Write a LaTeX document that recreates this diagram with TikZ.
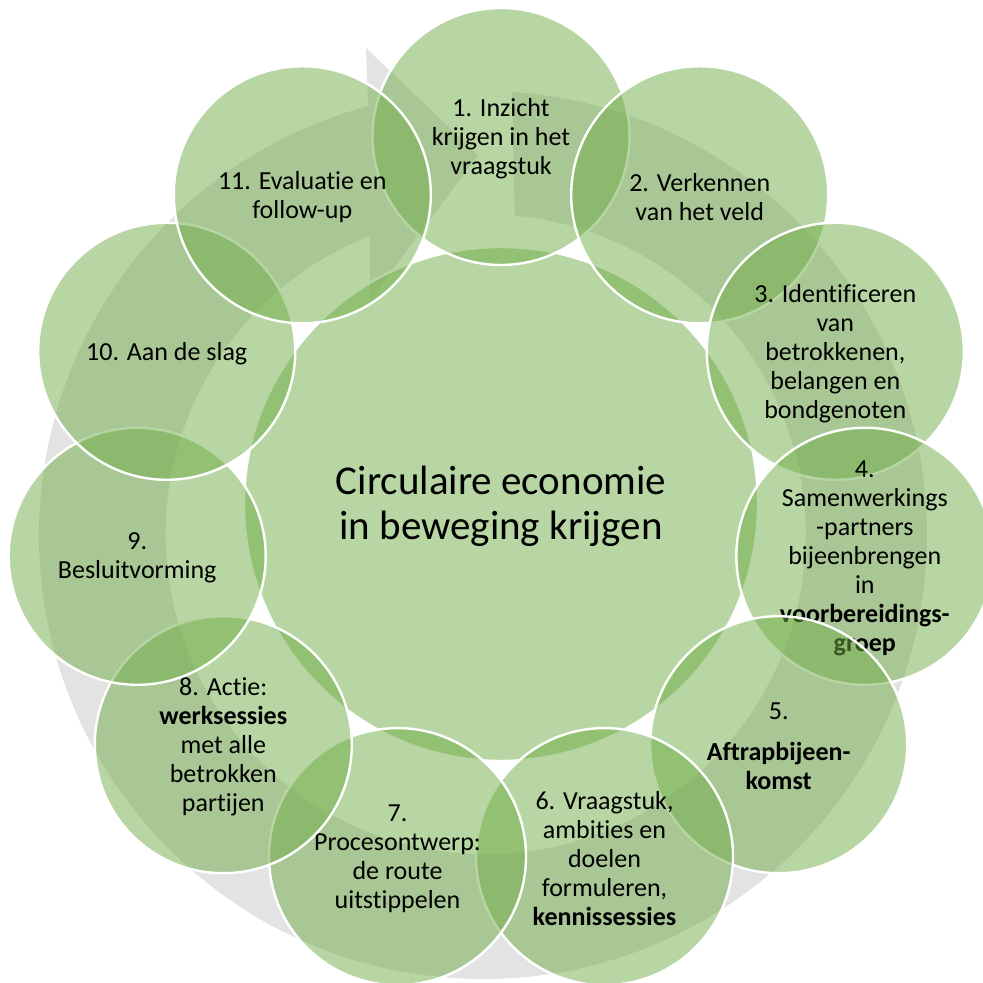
\documentclass[tikz,border=0pt]{standalone}
\usepackage{fontspec}
\setmainfont{Carlito}[Ligatures=NoCommon, Contextuals=NoAlternate]
\definecolor{cgreen}{HTML}{70AD47}
\definecolor{cgray}{HTML}{E3E3E3}
\begin{document}
\begin{tikzpicture}[x=0.5pt,y=0.5pt,
  bub/.style={circle, fill=cgreen, fill opacity=0.5, draw=white, draw opacity=1,
              line width=1.2pt, minimum size=128.5pt, inner sep=0pt},
  bigbub/.style={bub, minimum size=257pt},
  lbl/.style={align=center, font=\fontsize{13}{14.5}\selectfont, text=black, inner sep=0pt, yshift=-1pt},
  biglbl/.style={lbl, font=\fontsize{20.5}{22.5}\selectfont}]
\useasboundingbox (0,0) rectangle (983,983);
% grey circular arrow behind the cycle
\fill[cgray] (512,891) arc[start angle=86.25, end angle=-255, radius=444]
  -- (366,935) -- (478,828) -- (370,683) -- (370,747)
  arc[start angle=-248.8, end angle=84.8, radius=320] -- cycle;
% centre
\node[bigbub] (c0) at (501,479) {};
\node[biglbl] (t0) at (c0) {Circulaire economie\\in beweging krijgen};
% outer circles
\node[bub] (c1) at (501,846.5) {};
\node[lbl] (t1) at (c1) {1. Inzicht\\krijgen in het\\vraagstuk};
\node[bub] (c2) at (699.7,788.2) {};
\node[lbl] (t2) at (c2) {2. Verkennen\\van het veld};
\node[bub] (c3) at (835.3,631.7) {};
\node[lbl] (t3) at (c3) {3. Identificeren\\van\\betrokkenen,\\belangen en\\bondgenoten};
\node[bub] (c4) at (864.8,426.7) {};
\node[lbl] (t4) at (c4) {4.\\Samenwerkings\\-partners\\bijeenbrengen\\in\\\textbf{voorbereidings-}\\\textbf{groep}};
\node[bub] (c5) at (778.7,238.3) {};
\node[lbl] (t5) at (c5) {5.\\[6pt]\textbf{Aftrapbijeen-}\\\textbf{komst}};
\node[bub] (c6) at (604.5,126.4) {};
\node[lbl] (t6) at (c6) {6. Vraagstuk,\\ambities en\\doelen\\formuleren,\\\textbf{kennissessies}};
\node[bub] (c7) at (397.5,126.4) {};
\node[lbl] (t7) at (c7) {7.\\Procesontwerp:\\de route\\uitstippelen};
\node[bub] (c8) at (223.3,238.3) {};
\node[lbl] (t8) at (c8) {8. Actie:\\\textbf{werksessies}\\met alle\\betrokken\\partijen};
\node[bub] (c9) at (137.2,426.7) {};
\node[lbl] (t9) at (c9) {9.\\Besluitvorming};
\node[bub] (c10) at (166.7,631.7) {};
\node[lbl] (t10) at (c10) {10. Aan de slag};
\node[bub] (c11) at (302.3,788.2) {};
\node[lbl] (t11) at (c11) {11. Evaluatie en\\follow-up};
\end{tikzpicture}
\end{document}
